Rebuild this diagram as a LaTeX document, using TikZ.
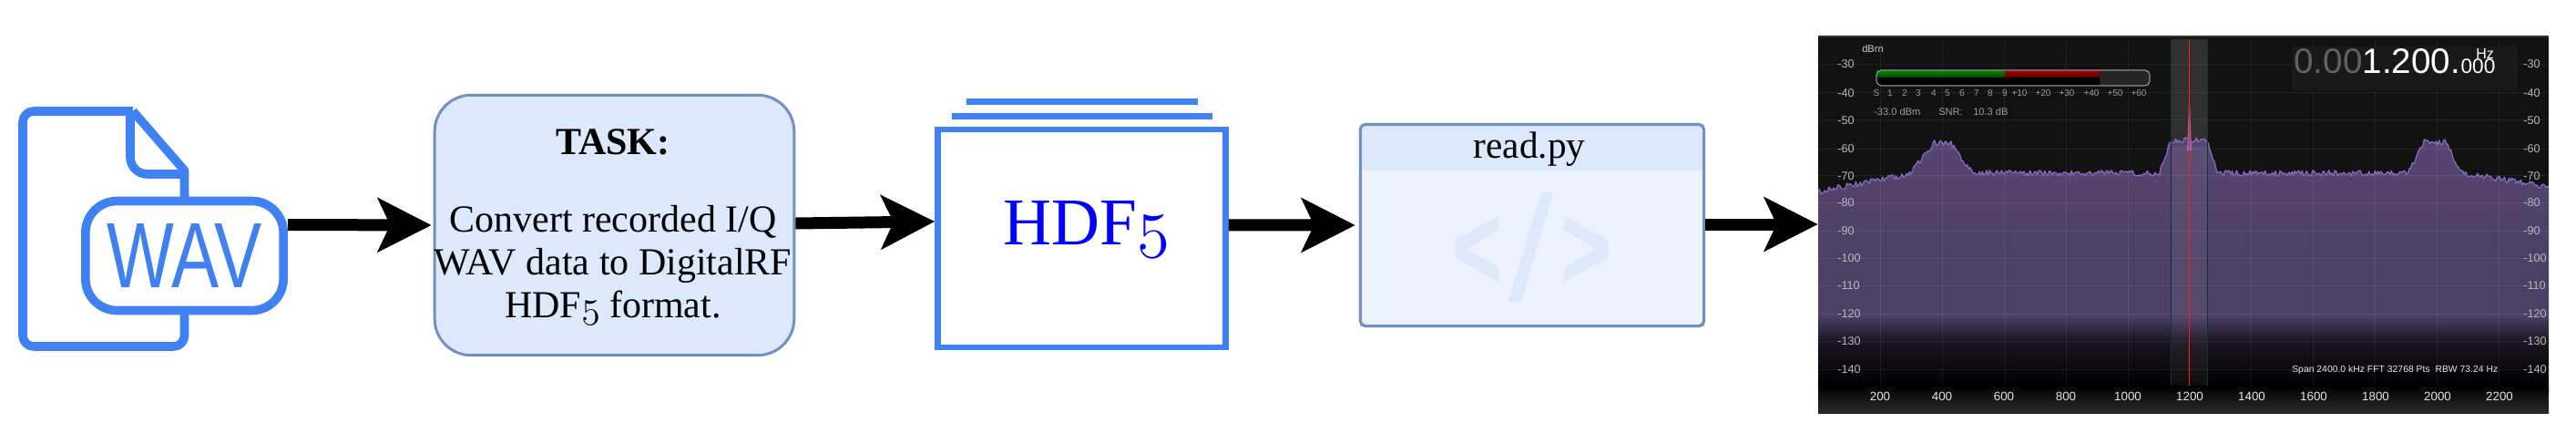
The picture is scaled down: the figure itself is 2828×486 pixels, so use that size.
\documentclass[tikz,border=0pt]{standalone}
\usepackage{fix-cm}
\usepackage{fontspec}
\setmainfont{Liberation Serif}
\setsansfont{Liberation Sans}
\usetikzlibrary{arrows.meta}

\definecolor{iconblue}{HTML}{3F80F2}
\definecolor{boxedge}{HTML}{7391C0}
\definecolor{boxfill}{HTML}{DCE8FB}
\definecolor{codefill}{HTML}{EBF2FC}
\definecolor{tracepurple}{HTML}{8468C0}
\definecolor{spectop}{HTML}{57456F}
\definecolor{specmid}{HTML}{4D3F66}

\pgfdeclareverticalshading{specfill}{100bp}{color(0bp)=(black); color(26bp)=(black); color(35bp)=(spectop!30!black); color(40bp)=(specmid); color(50bp)=(specmid); color(75bp)=(spectop); color(100bp)=(spectop)}

\tikzset{
  declare function={
    hump(\pos,\centre,\half,\peak,\slope)=\peak+\slope*max(0,abs(\pos-\centre)-\half);
    envelope(\pos)=min(190+max(0,2102-\pos)*0.19+max(0,\pos-2705)*0.16,
      hump(\pos,2132,9,157,1.3),hump(\pos,2403,20,154,3),hump(\pos,2673,12,156,2));
  },
  flowarrow/.style={line width=9.75pt, -{Stealth[length=44pt,width=44pt,inset=10pt]}},
  taskbox/.style={draw=boxedge, fill=boxfill, line width=2.25pt, rounded corners=30pt, minimum width=296pt, minimum height=214pt},
  hdfbox/.style={draw=iconblue, fill=white, line width=4.9pt, minimum width=237pt, minimum height=179pt},
  readbox/.style={draw=boxedge, fill=codefill, line width=2.25pt, rounded corners=4pt, minimum width=283pt, minimum height=166pt},
  iconline/.style={draw=iconblue, line width=7.2pt, line join=round},
  codesign/.style={fill=boxfill},
  dblabel/.style={anchor=west, inner sep=0pt, text=white!72!black, font=\sffamily\fontsize{9.5}{10}\selectfont},
  freqlabel/.style={text=white!90!black, font=\sffamily\fontsize{10}{11}\selectfont},
  meterlabel/.style={text=white!62!black, font=\sffamily\fontsize{7.5}{8}\selectfont},
  statlabel/.style={anchor=west, inner sep=0pt, text=white!62!black, font=\sffamily\fontsize{8.3}{9}\selectfont},
  gridline/.style={draw=white, opacity=0.07, line width=0.75pt},
}

\begin{document}
\begin{tikzpicture}[x=0.75pt, y=-0.75pt]
\useasboundingbox (0,0) rectangle (2828,486);
\pgfmathsetseed{1200}

% wav icon
\draw[iconline, rounded corners=9pt] (146,122) -- (25,122) -- (25,380) -- (202.5,380) -- (202.5,335);
\draw[iconline] (146,122) -- (202.5,187) -- (202.5,225);
\draw[iconline, rounded corners=14pt] (143,122) -- (143,191) -- (202.5,191);
\node[draw=iconblue, fill=white, line width=7.2pt, rounded corners=26pt, minimum width=163pt, minimum height=90pt, inner sep=0pt] (wavbadge) at (202.5,280.5) {\textcolor{iconblue}{\resizebox{127pt}{52.5pt}{\sffamily WAV}}};

% boxes
\node[taskbox] (task) at (674.5,247) {};
\node[align=center, inner sep=0pt, font=\fontsize{31.5}{35}\selectfont] (tasktext) at (673,249) {\textbf{TASK:}\\[29pt]Convert recorded I/Q\\WAV data to DigitalRF\\HDF$\mathnormal{5}$ format.};

\draw[line width=4.9pt, draw=iconblue] (1061,111.5) -- (1315,111.5);
\draw[line width=4.9pt, draw=iconblue] (1045,127.5) -- (1331,127.5);
\node[hdfbox] (hdf) at (1187.5,261.5) {};
\node[anchor=base, inner sep=0pt, font=\fontsize{55}{60}\selectfont, text=blue] (hdflabel) at (1193,268) {HDF$\mathnormal{5}$};

\node[readbox] (read) at (1682,247) {};
\begin{scope}
\clip[rounded corners=4pt] (read.north west) rectangle (read.south east);
\fill[boxfill] (1492,135) rectangle (1872,187);
\end{scope}
\draw[draw=boxedge, line width=2.25pt, rounded corners=4pt] (1493.5,136.5) rectangle (1870.5,357.5);
\node[font=\fontsize{31}{35}\selectfont] (readtitle) at (1679,164) {read.py};
\fill[codesign] (1645,237) -- (1598,263) -- (1598,283) -- (1645,309) -- (1645,294) -- (1611,273) -- (1645,252) -- cycle;
\fill[codesign] (1692,211) -- (1705,211) -- (1670,331) -- (1656,331) -- cycle;
\fill[codesign] (1717,237) -- (1765,263) -- (1765,283) -- (1717,309) -- (1717,294) -- (1752,273) -- (1717,252) -- cycle;

% spectrum
\node[fill=black!93, minimum width=601.5pt, minimum height=310.5pt, inner sep=0pt] (spectrum) at (2397,246) {};
\begin{scope}
\clip (1996,39) rectangle (2798,453);
\fill[black!80] (1996,39) rectangle (2798,41);
\fill[white, opacity=0.13] (2383,43) rectangle (2423.5,200);
\shadedraw[shading=specfill, draw=tracepurple, line width=1pt, line join=round] (1990,430) -- plot[domain=1990:2805, samples=500] (\x,{envelope(\x)+3.2*rand}) -- (2805,430) -- cycle;
\fill[tracepurple] (2401,165) -- (2403.5,101) -- (2406,165) -- cycle;
\foreach \gy in {70,101,131,163,192,222,253,283,313,344,374,405} {
  \draw[gridline] (1996,\gy) -- (2798,\gy);
}
\foreach \gx in {2064,2132,2200,2268,2336,2403,2471,2539,2607,2675,2743} {
  \draw[gridline] (\gx,43) -- (\gx,423);
}
\fill[white, opacity=0.05] (2383,160) rectangle (2423.5,423);
\draw[draw=teal!45!black, line width=0.75pt] (2383,43) -- (2383,423) (2423.5,43) -- (2423.5,423);
\draw[draw=red!75!orange, line width=1.1pt] (2403.5,43) -- (2403.5,423);
\shade[top color=black, bottom color=black!83] (1996,423) rectangle (2798,453);
\foreach \freq [count=\k] in {200,400,...,2400} {
  \node[freqlabel] (freq\k) at (1996+68*\k,435) {\freq};
}
\end{scope}

% db scale, both sides
\foreach \db/\gy [count=\k] in {-30/70,-40/102,-50/132,-60/163,-70/193,-80/222,-90/253,-100/283,-110/313,-120/344,-130/374,-140/405} {
  \node[dblabel] (dbl\k) at (2017,\gy) {\db};
  \node[dblabel] (dbr\k) at (2770,\gy) {\db};
}
\node[statlabel, text=white!80!black] (dbrn) at (2044,54) {dBrn};

% level meter
\fill[black!85] (2060,77) rectangle (2360,94);
\fill[black] (2060,84) rectangle (2305,94);
\shade[top color=green!55!black, bottom color=green!30!black] (2060,77) rectangle (2201,84);
\shade[top color=red!65!black, bottom color=red!40!black] (2201,77) rectangle (2305,84);
\draw[draw=black!45, line width=0.9pt, rounded corners=4pt] (2060,77) rectangle (2360,94);
\foreach \mark/\mx [count=\k] in {S/2060,1/2075,2/2091,3/2106,4/2123,5/2138,6/2154,7/2170,8/2185,9/2201,+10/2217,+20/2243,+30/2269,+40/2296,+50/2322,+60/2348} {
  \node[meterlabel] (meter\k) at (\mx,102) {\mark};
}
\node[statlabel] (level) at (2057,123) {-33.0 dBm};
\node[statlabel] (snr) at (2128,123) {SNR:};
\node[statlabel] (snrval) at (2166,123) {10.3 dB};

% frequency readout
\fill[black!90] (2516,51) rectangle (2764,99);
\node[anchor=base west, inner sep=0pt, font=\sffamily\fontsize{29}{30}\selectfont, text=white] (readout) at (2518,80) {\textcolor{black!62}{0.00}1.200.};
\node[anchor=base west, inner sep=0pt, font=\sffamily\fontsize{17}{18}\selectfont, text=white] (readsub) at (readout.base east) {000};
\node[anchor=base west, inner sep=0pt, font=\sffamily\fontsize{12}{13}\selectfont, text=white] (hz) at (2718,64) {Hz};

\node[anchor=west, inner sep=0pt, text=white!90!black, font=\sffamily\fontsize{7.8}{8}\selectfont] (span) at (2516,406) {Span 2400.0 kHz FFT 32768 Pts\ \ RBW 73.24 Hz};

% arrows
\draw[flowarrow] ([yshift=25.5pt]wavbadge.east) -- ([xshift=-1.5pt]task.west);
\draw[flowarrow] ([yshift=1.5pt]task.east) -- ([yshift=13.9pt]hdf.west);
\draw[flowarrow] ([yshift=10.9pt]hdf.east) -- ([xshift=-3pt]read.west);
\draw[flowarrow] ([yshift=0.75pt]read.east) -- (spectrum.west);
\end{tikzpicture}
\end{document}
